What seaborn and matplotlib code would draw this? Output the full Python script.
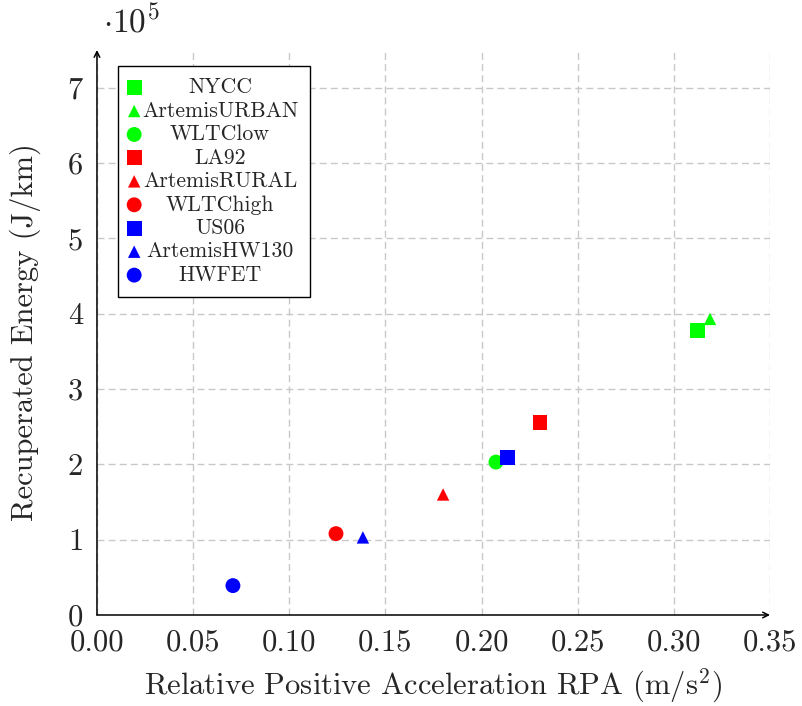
import numpy as np
import pandas as pd
import matplotlib
matplotlib.use('Agg')
import matplotlib.pyplot as plt
import seaborn as sns

# drive cycles: RPA (m/s^2) vs recuperated energy (J/km)
cycles = ['NYCC', 'ArtemisURBAN', 'WLTClow', 'LA92', 'ArtemisRURAL',
          'WLTChigh', 'US06', 'ArtemisHW130', 'HWFET']
rpa = [0.3125, 0.3188, 0.2075, 0.2304, 0.1800, 0.1243, 0.2137, 0.1383, 0.0707]
energy = [3.78e5, 3.93e5, 2.03e5, 2.56e5, 1.60e5, 1.08e5, 2.09e5, 1.03e5, 0.39e5]
colors = ['#00ff00', '#00ff00', '#00ff00', '#ff0000', '#ff0000', '#ff0000',
          '#0000ff', '#0000ff', '#0000ff']
markers = ['s', '^', 'o', 's', '^', 'o', 's', '^', 'o']
xticks = [0.00, 0.05, 0.10, 0.15, 0.20, 0.25, 0.30, 0.35]
yticks = [0, 1, 2, 3, 4, 5, 6, 7]

df = pd.DataFrame({'cycle': cycles, 'rpa': rpa, 'energy': np.array(energy) / 1e5})

sns.set_style('white')
plt.rcParams['font.family'] = ['cmr10']
plt.rcParams['mathtext.fontset'] = 'cm'
plt.rcParams['axes.formatter.use_mathtext'] = True

fig = plt.figure(figsize=(8.02, 7.06), dpi=100)
ax = fig.add_axes([0.1209, 0.1289, 0.8392, 0.8003])

sizes = {'s': 115, '^': 80, 'o': 115}
for i, c in enumerate(cycles):
    sns.scatterplot(data=df[df.cycle == c], x='rpa', y='energy', color=colors[i],
                    marker=markers[i], s=sizes[markers[i]], edgecolor='none',
                    label=c, ax=ax, zorder=3)

ax.set_xlim(0, 0.35)
ax.set_ylim(0, 7.5)
ax.set_xticks(xticks)
ax.set_yticks(yticks)
ax.set_xticklabels(['%.2f' % v for v in xticks])
ax.set_yticklabels([str(v) for v in yticks])
ax.tick_params(labelsize=22, direction='inout', length=8, width=0.8, color='0.55', pad=6)
ax.grid(True, color='#c8c8c8', linestyle=(0, (5, 3)), linewidth=1)

for s in ax.spines.values():
    s.set_visible(False)
# axis arrows
ax.annotate('', xy=(1.0, 0), xytext=(0, 0), xycoords='axes fraction',
            arrowprops=dict(arrowstyle='->', color='black', lw=1.1, shrinkA=0, shrinkB=0))
ax.annotate('', xy=(0, 1.0), xytext=(0, 0), xycoords='axes fraction',
            arrowprops=dict(arrowstyle='->', color='black', lw=1.1, shrinkA=0, shrinkB=0))

ax.set_xlabel(r'Relative Positive Acceleration RPA (m/s$^2$)', fontsize=22)
ax.set_ylabel('Recuperated Energy (J/km)', fontsize=22)
ax.xaxis.set_label_coords(0.5, -0.092)
ax.yaxis.set_label_coords(-0.083, 0.5)

fig.text(0.128, (706 - 33) / 706, r'$\cdot 10^5$', fontsize=24, va='baseline', ha='left')

leg = ax.legend(loc='upper left', bbox_to_anchor=(0.031, 0.972), borderaxespad=0,
                fontsize=15.7, frameon=True, fancybox=False, framealpha=1,
                edgecolor='black', labelspacing=0.18, handletextpad=0.15,
                borderpad=0.55, handlelength=0.4, markerscale=1.0)
leg.get_frame().set_linewidth(1.0)

# center legend labels like pgfplots
fig.canvas.draw()
rend = fig.canvas.get_renderer()
texts = leg.get_texts()
widths = [t.get_window_extent(rend).width for t in texts]
wmax = max(widths)
for t, w in zip(texts, widths):
    t.set_position(((wmax - w) / 2, 0))

fig.savefig('out.png', dpi=100)
